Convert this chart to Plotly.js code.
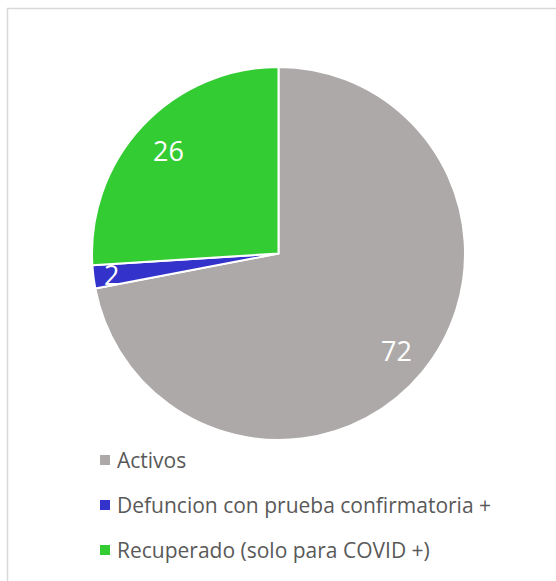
<!DOCTYPE html>
<html>
<head>
<meta charset="utf-8">
<script src="https://cdn.plot.ly/plotly-3.0.1.min.js"></script>
<style>html,body{margin:0;padding:0;background:#fff;}#chart{width:556px;height:581px;}</style>
</head>
<body>
<div id="chart"></div>
<script>
var categories = ["Activos", "Defuncion con prueba confirmatoria +", "Recuperado (solo para COVID +)"];
var values = [72, 2, 26];
var colors = ["#ADA9A8", "#3333CC", "#33CC33"];

var W = 556, H = 581;
var cx = 278.5, cy = 253.5, R = 186.5;

var trace = {
  type: "pie",
  labels: categories,
  values: values,
  sort: false,
  direction: "clockwise",
  rotation: 0,
  textinfo: "none",
  hoverinfo: "label+value",
  marker: {colors: colors, line: {color: "#FFFFFF", width: 2}},
  domain: {x: [(cx - R) / W, (cx + R) / W], y: [1 - (cy + R) / H, 1 - (cy - R) / H]},
  showlegend: false
};

var total = values.reduce(function (a, b) { return a + b; }, 0);
var annotations = [];
var shapes = [];
var cum = 0;
var labelFrac = [0.82, 0.9, 0.81];
values.forEach(function (v, i) {
  var mid = (cum + v / 2) / total * 2 * Math.PI;
  cum += v;
  var r = R * labelFrac[i];
  annotations.push({
    xref: "paper", yref: "paper",
    x: (cx + r * Math.sin(mid)) / W,
    y: 1 - (cy - r * Math.cos(mid)) / H,
    text: String(v), showarrow: false,
    xanchor: "center", yanchor: "middle",
    font: {family: "Open Sans", size: 27, color: "#FFFFFF"}
  });
});

// legend built from the same arrays
var legX = 100, legY0 = 460, legGap = 45, sq = 10;
categories.forEach(function (c, i) {
  var yc = legY0 + i * legGap;
  shapes.push({
    type: "rect", xref: "paper", yref: "paper",
    x0: legX / W, x1: (legX + sq) / W,
    y0: 1 - (yc + sq / 2) / H, y1: 1 - (yc - sq / 2) / H,
    fillcolor: colors[i], line: {width: 0}
  });
  annotations.push({
    xref: "paper", yref: "paper",
    x: (legX + sq + 5) / W, y: 1 - yc / H,
    text: c, showarrow: false, xanchor: "left", yanchor: "middle",
    font: {family: "Open Sans", size: 21, color: "#595959"}
  });
});

// chart area border
shapes.push({
  type: "rect", xref: "paper", yref: "paper",
  x0: 7.5 / W, x1: 1.02, y0: -0.02, y1: 1 - 8.5 / H,
  line: {color: "#D9D9D9", width: 1.5}, fillcolor: "rgba(0,0,0,0)"
});

var layout = {
  width: W, height: H,
  margin: {l: 0, r: 0, t: 0, b: 0},
  paper_bgcolor: "#FFFFFF",
  showlegend: false,
  annotations: annotations,
  shapes: shapes
};

Plotly.newPlot("chart", [trace], layout, {displayModeBar: false, staticPlot: true});
</script>
</body>
</html>
